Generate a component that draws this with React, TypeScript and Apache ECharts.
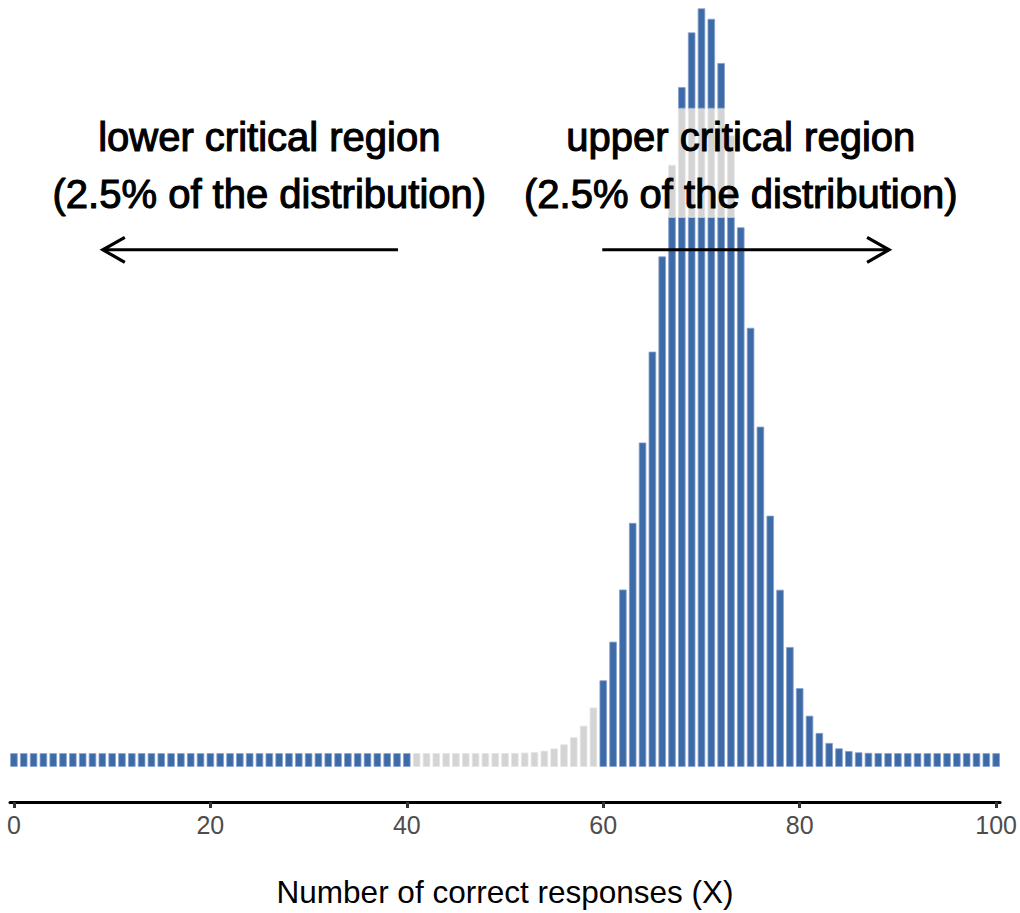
import React, { useEffect, useRef } from "react";
import * as echarts from "echarts";

// Number of correct responses (0..100)
const X_VALUES: number[] = Array.from({ length: 101 }, (_, i) => i);

// Probability of each outcome
const PROB: number[] = [
  0, 0, 0, 0, 0, 0, 0, 0, 0, 0,
  0, 0, 0, 0, 0, 0, 0, 0, 0, 0,
  0, 0, 0, 0, 0, 0, 0, 0, 0, 0,
  0, 0, 0, 0, 0, 0, 0, 0, 0, 0,
  0, 0, 0, 0, 0, 0, 0, 0, 0, 0,
  0.000013, 0.00003, 0.000065, 0.000138, 0.000281, 0.000549, 0.001029, 0.001853, 0.003206, 0.005325,
  0.00849, 0.01299, 0.01907, 0.02683, 0.0362, 0.04678, 0.05788, 0.06854, 0.07761, 0.08398,
  0.08678, 0.08556, 0.08041, 0.07197, 0.06127, 0.04956, 0.03804, 0.02767, 0.01904, 0.01237,
  0.007577, 0.004365, 0.00236, 0.001194, 0.000564, 0.000248, 0.000101, 0.000038, 0.000013, 0.000004,
  0, 0, 0, 0, 0, 0, 0, 0, 0, 0,
  0,
];

// Critical region boundaries (blue at or below LOWER, at or above UPPER)
const LOWER_CRIT = 40;
const UPPER_CRIT = 60;

const X_TICKS: number[] = [0, 20, 40, 60, 80, 100];

// Minimum visible bar (stub) in probability units
const STUB = 0.0015;

// Label background band over the upper text (data coordinates)
const BAND_X: number[] = [51, 97];
const BAND_Y: number[] = [0.0625, 0.0752];

// Annotation texts
const LABEL_X: number[] = [26, 26, 74, 74];
const LABEL_Y: number[] = [0.0718, 0.0652, 0.0718, 0.0652];
const LABEL_TEXT: string[] = [
  "lower critical region",
  "(2.5% of the distribution)",
  "upper critical region",
  "(2.5% of the distribution)",
];

// Arrows: [from x, to x (tip), y]
const ARROW_FROM: number[] = [39.1, 59.9];
const ARROW_TO: number[] = [9.05, 89.1];
const ARROW_Y = 0.0587;

const BLUE = "#3d6ba8";
const BLUE_EDGE = "#86a0cb";
const GREY = "#d4d4d4";
const GREY_EDGE = "#e4e4e4";
const FONT = "'Liberation Sans', Arial, Helvetica, sans-serif";

export default function App() {
  const ref = useRef<HTMLDivElement>(null);

  useEffect(() => {
    if (!ref.current) return;
    const chart = echarts.init(ref.current, undefined, { renderer: "svg" });

    const barData = X_VALUES.map((k, i) => [k, PROB[i]]);
    const labelData = LABEL_TEXT.map((_, i) => [LABEL_X[i], LABEL_Y[i], i]);
    const arrowData = ARROW_FROM.map((x0, i) => [x0, ARROW_Y, ARROW_TO[i]]);

    const option: any = {
      animation: false,
      backgroundColor: "#ffffff",
      grid: { left: 10, right: 19, top: 0, bottom: 109.5, containLabel: false },
      xAxis: {
        type: "value",
        min: -0.4,
        max: 100.4,
        splitLine: { show: false },
        axisLine: { show: true, onZero: false, lineStyle: { color: "#000000", width: 3 } },
        axisTick: {
          show: true,
          customValues: X_TICKS,
          length: 6,
          lineStyle: { color: "#333333", width: 3 },
        },
        axisLabel: {
          show: true,
          customValues: X_TICKS,
          margin: 10,
          color: "#4d4d4d",
          fontSize: 25,
          fontFamily: FONT,
          formatter: (v: number) => String(v),
        },
        name: "Number of correct responses (X)",
        nameLocation: "middle",
        nameGap: 74,
        nameTextStyle: { color: "#000000", fontSize: 31.5, fontFamily: FONT },
      },
      yAxis: {
        type: "value",
        min: -0.00564,
        max: 0.0878,
        show: false,
        splitLine: { show: false },
      },
      series: [
        {
          type: "custom",
          name: "bars",
          data: barData,
          encode: { x: 0, y: 1 },
          z: 2,
          renderItem: (params: any, api: any) => {
            const k = api.value(0);
            const p = api.value(1);
            const inCrit = k <= LOWER_CRIT || k >= UPPER_CRIT;
            const fill = inCrit ? BLUE : GREY;
            const edge = inCrit ? BLUE_EDGE : GREY_EDGE;
            const w = api.size([1, 0])[0] * 0.68;
            const children: any[] = [];
            const seg = (v0: number, v1: number, f: string, e: string) => {
              if (v1 <= v0) return;
              const a = api.coord([k, v0]);
              const b = api.coord([k, v1]);
              children.push({
                type: "rect",
                shape: { x: a[0] - w / 2, y: b[1], width: w, height: a[1] - b[1] },
                style: { fill: f, stroke: e, lineWidth: 0.8 },
              });
            };
            const lo = -STUB;
            const inBandX = k >= BAND_X[0] && k <= BAND_X[1];
            if (inBandX && p > BAND_Y[0]) {
              seg(lo, BAND_Y[0], fill, edge);
              seg(BAND_Y[0], Math.min(p, BAND_Y[1]), GREY, GREY_EDGE);
              seg(BAND_Y[1], p, fill, edge);
            } else {
              seg(lo, p, fill, edge);
            }
            return { type: "group", children };
          },
        },
        {
          type: "custom",
          name: "arrows",
          data: arrowData,
          encode: { x: [0, 2], y: 1 },
          z: 5,
          renderItem: (params: any, api: any) => {
            const x0 = api.value(0);
            const y = api.value(1);
            const x1 = api.value(2);
            const a = api.coord([x0, y]);
            const b = api.coord([x1, y]);
            const dir = b[0] > a[0] ? 1 : -1;
            const hl = 22;
            const hw = 12.5;
            return {
              type: "group",
              children: [
                {
                  type: "line",
                  shape: { x1: a[0], y1: a[1], x2: b[0], y2: b[1] },
                  style: { stroke: "#000000", lineWidth: 3.2 },
                },
                {
                  type: "polyline",
                  shape: {
                    points: [
                      [b[0] - dir * hl, b[1] - hw],
                      [b[0], b[1]],
                      [b[0] - dir * hl, b[1] + hw],
                    ],
                  },
                  style: { stroke: "#000000", lineWidth: 3.2, fill: "none" },
                },
              ],
            };
          },
        },
        {
          type: "custom",
          name: "labels",
          data: labelData,
          encode: { x: 0, y: 1 },
          z: 6,
          renderItem: (params: any, api: any) => {
            const i = api.value(2);
            const c = api.coord([api.value(0), api.value(1)]);
            return {
              type: "text",
              x: c[0],
              y: c[1],
              style: {
                text: LABEL_TEXT[i],
                fill: "#000000",
                stroke: "#000000",
                lineWidth: 1.1,
                font: `40px ${FONT}`,
                align: "center",
                verticalAlign: "middle",
              },
            };
          },
        },
      ],
    };

    chart.setOption(option);
    return () => chart.dispose();
  }, []);

  return (
    <div
      ref={ref}
      style={{ position: "fixed", left: 0, top: 0, width: 1020, height: 913, background: "#fff" }}
    />
  );
}
